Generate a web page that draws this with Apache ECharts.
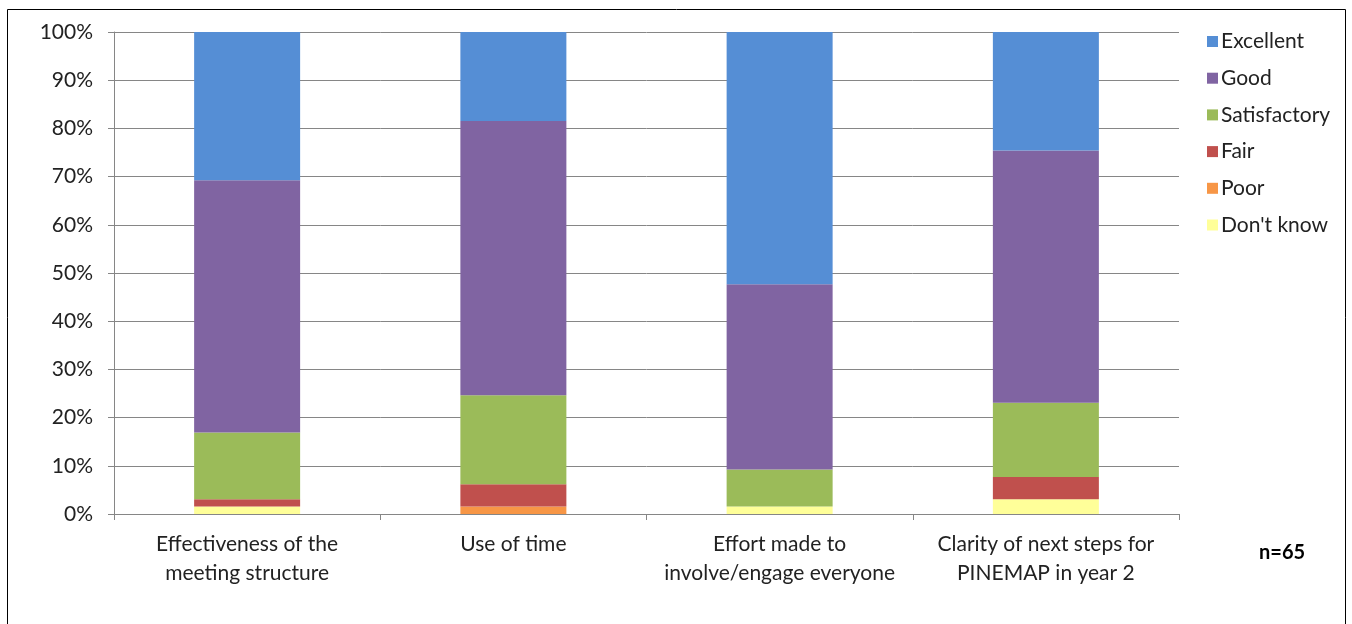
<!DOCTYPE html>
<html><head><meta charset="utf-8">
<script src="https://cdn.jsdelivr.net/npm/echarts@6/dist/echarts.min.js"></script>
<style>html,body{margin:0;padding:0;background:#fff;}#c{width:1352px;height:624px;}</style>
</head><body><div id="c"></div>
<script>
const categories = ['Effectiveness of the\nmeeting structure', 'Use of time', 'Effort made to\ninvolve/engage everyone', 'Clarity of next steps for\nPINEMAP in year 2'];
const dontKnow = [1.54, 0, 1.54, 3.08];
const poor = [0, 1.54, 0, 0];
const fair = [1.54, 4.62, 0, 4.62];
const satisfactory = [13.85, 18.46, 7.69, 15.38];
const good = [52.31, 56.92, 38.46, 52.31];
const excellent = [30.77, 18.46, 52.31, 24.62];
const yTicks = ['0%','10%','20%','30%','40%','50%','60%','70%','80%','90%','100%'];

const FONT = 'Lato, "Open Sans", sans-serif';
const FS = 21;
const seriesDefs = [
  ["Don't know", dontKnow, '#FFFF99'],
  ['Poor', poor, '#F79646'],
  ['Fair', fair, '#C0504D'],
  ['Satisfactory', satisfactory, '#9BBB59'],
  ['Good', good, '#8064A2'],
  ['Excellent', excellent, '#558ED5']
];
const chart = echarts.init(document.getElementById('c'));
chart.setOption({
  animation: false,
  textStyle: {fontFamily: FONT},
  grid: {left: 114, right: 173, top: 32, bottom: 110, containLabel: false},
  legend: {
    orient: 'vertical', left: 1202, top: 26, itemWidth: 11, itemHeight: 11, itemGap: 15.7,
    icon: 'rect',
    textStyle: {fontSize: FS, color: '#222', fontFamily: FONT, padding: [0,0,0,-2]},
    data: ['Excellent','Good','Satisfactory','Fair','Poor',"Don't know"]
  },
  xAxis: {
    type: 'category', data: categories,
    axisLine: {lineStyle: {color: '#868686'}},
    axisTick: {show: true, length: 6, lineStyle: {color: '#868686'}},
    axisLabel: {fontSize: FS, color: '#222', lineHeight: 29, margin: 16, interval: 0, fontFamily: FONT}
  },
  yAxis: {
    type: 'value', min: 0, max: 100, interval: 10,
    axisLine: {show: true, lineStyle: {color: '#868686'}},
    axisTick: {show: true, length: 6, lineStyle: {color: '#868686'}},
    splitLine: {lineStyle: {color: '#868686'}},
    axisLabel: {fontSize: FS, color: '#222', margin: 21, fontFamily: FONT,
      formatter: v => yTicks[Math.round(v/10)]}
  },
  series: seriesDefs.map(([n, d, c]) => ({
    name: n, type: 'bar', stack: 'total', data: d, barWidth: 106,
    itemStyle: {color: c}
  })),
  graphic: [
    {type: 'rect', shape: {x: 7.5, y: 9.5, width: 1338, height: 640}, style: {fill: 'none', stroke: '#000', lineWidth: 1}, silent: true},
    {type: 'text', left: 1259, top: 543, style: {text: 'n=65', fontSize: 20, fontWeight: 'bold', fill: '#000', fontFamily: FONT}}
  ]
});
</script></body></html>
